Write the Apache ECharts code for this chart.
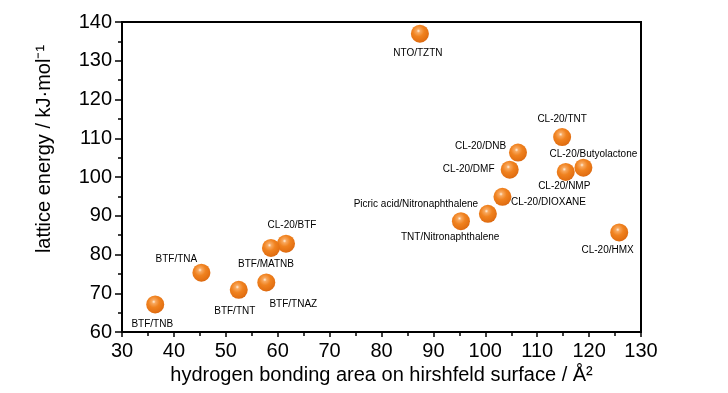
<!DOCTYPE html>
<html>
<head>
<meta charset="utf-8">
<script src="https://cdn.jsdelivr.net/npm/echarts@6/dist/echarts.min.js"></script>
<style>
html,body{margin:0;padding:0;background:#fff;}
#c{width:728px;height:393px;}
</style>
</head>
<body>
<div id="c"></div>
<script>
// Data
const names = ['NTO/TZTN','CL-20/TNT','CL-20/DNB','CL-20/DMF','CL-20/Butyolactone','CL-20/NMP','CL-20/DIOXANE','Picric acid/Nitronaphthalene','TNT/Nitronaphthalene','CL-20/HMX','CL-20/BTF','BTF/MATNB','BTF/TNA','BTF/TNAZ','BTF/TNT','BTF/TNB'];
const hbArea = [87.4,114.8,106.3,104.7,118.9,115.5,103.3,100.5,95.3,125.8,61.6,58.7,45.3,57.8,52.5,36.4];
const latticeEnergy = [137.0,110.3,106.3,101.9,102.4,101.3,94.9,90.5,88.6,85.7,82.8,81.7,75.3,72.8,70.9,67.1];
const xTicks = [30,40,50,60,70,80,90,100,110,120,130];
const yTicks = [60,70,80,90,100,110,120,130,140];

// label placement (style, not data): offset of label centre from the point, px
const labelOffsets = {
  'NTO/TZTN':[-2,20],'CL-20/TNT':[0,-17.5],'CL-20/DNB':[-37.5,-6],'CL-20/DMF':[-41,0],
  'CL-20/Butyolactone':[10,-13],'CL-20/NMP':[-1.5,14],'CL-20/DIOXANE':[46,5],
  'Picric acid/Nitronaphthalene':[-72,-9.5],'TNT/Nitronaphthalene':[-10.7,16],
  'CL-20/HMX':[-11.6,18.3],'CL-20/BTF':[6,-18],'BTF/MATNB':[-5,16],'BTF/TNA':[-25,-13.3],
  'BTF/TNAZ':[27,21.6],'BTF/TNT':[-4,21],'BTF/TNB':[-3,19.3]
};

const font = 'Liberation Sans, Arial, sans-serif';
const data = names.map((n,i)=>({
  name:n, value:[hbArea[i], latticeEnergy[i]],
  label:{show:true, position:'inside', offset:labelOffsets[n], formatter:n,
    color:'#000', fontSize:10, fontFamily:font}
}));

const chart = echarts.init(document.getElementById('c'), null, {renderer:'canvas'});
chart.setOption({
  backgroundColor:'#ffffff',
  animation:false,
  grid:{left:122, right:87, top:22, bottom:61, show:true, borderColor:'#000', borderWidth:2, backgroundColor:'transparent'},
  xAxis:{
    type:'value', min:xTicks[0], max:xTicks[xTicks.length-1], interval:10,
    name:'hydrogen bonding area on hirshfeld surface / Å²', nameLocation:'middle', nameGap:33,
    nameTextStyle:{fontSize:20, color:'#000', fontFamily:font},
    axisLine:{show:true, onZero:false, lineStyle:{color:'#000', width:2}},
    axisTick:{show:true, inside:false, length:5, lineStyle:{color:'#000', width:1.5}},
    minorTick:{show:true, splitNumber:2, length:4, lineStyle:{color:'#000', width:1.5}},
    axisLabel:{fontSize:20, color:'#000', margin:9, fontFamily:font},
    splitLine:{show:false}
  },
  yAxis:{
    type:'value', min:yTicks[0], max:yTicks[yTicks.length-1], interval:10,
    name:'lattice energy / kJ·mol⁻¹', nameLocation:'middle', nameGap:68, nameRotate:90,
    nameTextStyle:{fontSize:20, color:'#000', fontFamily:font, padding:[0,0,0,56]},
    axisLine:{show:true, onZero:false, lineStyle:{color:'#000', width:2}},
    axisTick:{show:true, inside:false, length:7, lineStyle:{color:'#000', width:1.5}},
    minorTick:{show:true, splitNumber:2, length:4, lineStyle:{color:'#000', width:1.5}},
    axisLabel:{fontSize:20, color:'#000', margin:10, fontFamily:font},
    splitLine:{show:false}
  },
  series:[{
    type:'scatter',
    symbol:'circle',
    symbolSize:18,
    data:data,
    itemStyle:{
      opacity:1,
      color:{type:'radial', x:0.42, y:0.35, r:0.7, colorStops:[
        {offset:0, color:'#fff1e0'},
        {offset:0.15, color:'#f8a85e'},
        {offset:0.45, color:'#f0821f'},
        {offset:0.85, color:'#e26f12'},
        {offset:1, color:'#d2600c'}
      ]}
    },
    emphasis:{disabled:true}
  }]
});
</script>
</body>
</html>
